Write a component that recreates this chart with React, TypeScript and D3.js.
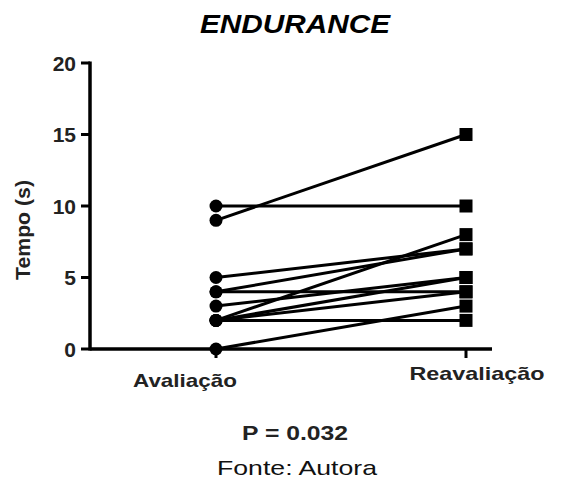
import React from 'react';
import * as d3 from 'd3';

const groups = ['Avaliação', 'Reavaliação'];
const avaliacao = [10, 9, 5, 4, 4, 3, 2, 2, 2, 2, 0];
const reavaliacao = [10, 15, 7, 7, 4, 5, 8, 5, 4, 2, 3];
const yTicks = [0, 5, 10, 15, 20];

export default function App() {
  const width = 582;
  const height = 490;
  const font = 'Liberation Sans, Arial, sans-serif';

  const x = d3.scalePoint<string>().domain(groups).range([216, 466]);
  const y = d3.scaleLinear().domain([0, 20]).range([349, 63]);
  const axisLeft = 90;
  const axisRight = 492;

  const pairs = avaliacao.map((v, i) => [v, reavaliacao[i]]);
  const line = d3
    .line<[string, number]>()
    .x(d => x(d[0]) as number)
    .y(d => y(d[1]));

  // label positions (labels sit offset from the points)
  const labelX = [185, 477];
  const labelY = [387, 380];
  const labelW = [104, 135];

  return (
    <svg width={width} height={height} style={{ position: 'absolute', left: 0, top: 0 }}>
      <rect width={width} height={height} fill="#fff" />
      <text x={295} y={33} textAnchor="middle" fontFamily={font} fontSize={25}
        fontWeight="bold" fontStyle="italic" textLength={190} lengthAdjust="spacingAndGlyphs">ENDURANCE</text>

      {/* y axis */}
      <line x1={axisLeft} x2={axisLeft} y1={y(20) - 1.5} y2={y(0) + 1.5} stroke="#000" strokeWidth={3.5} />
      {yTicks.map(t => (
        <g key={t}>
          <line x1={axisLeft - 9} x2={axisLeft} y1={y(t)} y2={y(t)} stroke="#000" strokeWidth={3} />
          <text x={axisLeft - 14} y={y(t) + 7.5} textAnchor="end" fontFamily={font}
            fontSize={21} fontWeight="bold" fill="#222">{t}</text>
        </g>
      ))}
      <text transform={`translate(30,230) rotate(-90)`} textAnchor="middle"
        fontFamily={font} fontSize={20} fontWeight="bold" fill="#222"
        textLength={100} lengthAdjust="spacingAndGlyphs">Tempo (s)</text>

      {/* x axis */}
      <line x1={axisLeft} x2={axisRight} y1={y(0)} y2={y(0)} stroke="#000" strokeWidth={3.5} />
      {groups.map(g => (
        <line key={g} x1={x(g)} x2={x(g)} y1={y(0)} y2={y(0) + 9} stroke="#000" strokeWidth={3} />
      ))}
      {groups.map((g, i) => (
        <text key={'l' + g} x={labelX[i]} y={labelY[i]} textAnchor="middle" fontFamily={font}
          fontSize={19} fontWeight="bold" fill="#222"
          textLength={labelW[i]} lengthAdjust="spacingAndGlyphs">{g}</text>
      ))}

      {/* paired lines */}
      {pairs.map((p, i) => (
        <path key={i} d={line([[groups[0], p[0]], [groups[1], p[1]]]) || ''}
          fill="none" stroke="#000" strokeWidth={3} />
      ))}
      {avaliacao.map((v, i) => (
        <circle key={'c' + i} cx={x(groups[0])} cy={y(v)} r={6.5} fill="#000" />
      ))}
      {reavaliacao.map((v, i) => (
        <rect key={'s' + i} x={(x(groups[1]) as number) - 6.5} y={y(v) - 6.5} width={13} height={13} fill="#000" />
      ))}

      <text x={295} y={440} textAnchor="middle" fontFamily={font} fontSize={20}
        fontWeight="bold" fill="#222" textLength={106} lengthAdjust="spacingAndGlyphs">P = 0.032</text>
      <text x={297} y={475} textAnchor="middle" fontFamily={font} fontSize={21}
        fill="#111" textLength={160} lengthAdjust="spacingAndGlyphs">Fonte: Autora</text>
    </svg>
  );
}
